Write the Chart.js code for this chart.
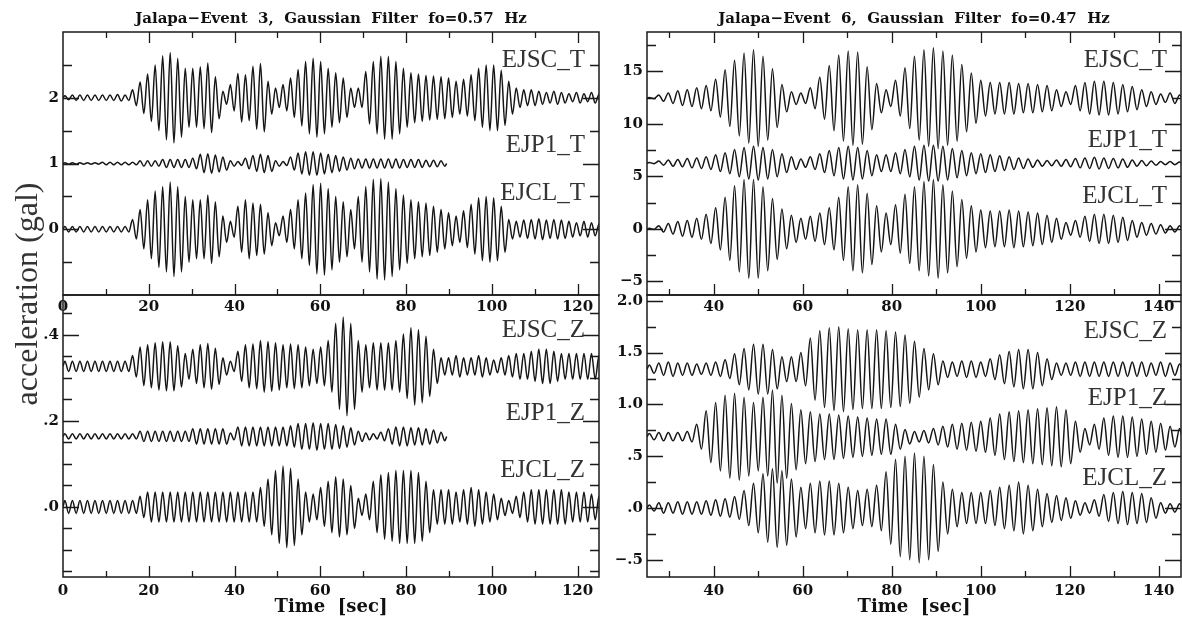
<!DOCTYPE html>
<html>
<head>
<meta charset="utf-8">
<script src="https://cdn.jsdelivr.net/npm/chart.js@4.4.1/dist/chart.umd.min.js"></script>
<style>
  body { margin: 0; background: #fff; }
  #wrap { position: relative; width: 1182px; height: 619px; }
  #wrap canvas { position: absolute; left: 0; top: 0; }
</style>
</head>
<body>
<div id="wrap">
  <canvas id="ev3T" width="1182" height="619"></canvas>
  <canvas id="ev3Z" width="1182" height="619"></canvas>
  <canvas id="ev6T" width="1182" height="619"></canvas>
  <canvas id="ev6Z" width="1182" height="619"></canvas>
</div>
<script>
// Gaussian-filtered records: half amplitude of each filter cycle, one value per cycle
const ev3Fo = 0.57;      // Hz, event 3 records start at t = 0 s
const ev6Fo = 0.47;      // Hz, event 6 records start at t = 25 s
const ev3Start = 0;
const ev6Start = 25;

const stationsT = ['EJSC_T', 'EJP1_T', 'EJCL_T'];
const stationsZ = ['EJSC_Z', 'EJP1_Z', 'EJCL_Z'];

// trace offsets (gal)
const ev3BaseT = [2, 1, 0];
const ev3BaseZ = [0.327, 0.164, 0];
const ev6BaseT = [12.45, 6.26, 0];
const ev6BaseZ = [1.34, 0.688, 0];

// event 3, transverse
const ev3EjscT = [0.03, 0.04, 0.04, 0.04, 0.04, 0.04, 0.04, 0.05, 0.04, 0.12,
  0.24, 0.36, 0.5, 0.64, 0.69, 0.6, 0.45, 0.45, 0.47, 0.53,
  0.32, 0.1, 0.2, 0.37, 0.35, 0.48, 0.52, 0.25, 0.15, 0.2,
  0.3, 0.43, 0.55, 0.6, 0.55, 0.45, 0.38, 0.3, 0.15, 0.15,
  0.4, 0.55, 0.63, 0.63, 0.55, 0.45, 0.38, 0.36, 0.34, 0.33,
  0.32, 0.3, 0.25, 0.28, 0.35, 0.45, 0.5, 0.5, 0.42, 0.25,
  0.15, 0.12, 0.12, 0.1, 0.08, 0.1, 0.08, 0.06, 0.08, 0.06,
  0.08, 0.05];
const ev3Ejp1T = [0.01, 0.01, 0.01, 0.01, 0.01, 0.02, 0.02, 0.02, 0.02, 0.02,
  0.04, 0.04, 0.04, 0.06, 0.06, 0.06, 0.06, 0.08, 0.14, 0.15,
  0.13, 0.1, 0.04, 0.03, 0.08, 0.12, 0.14, 0.12, 0.04, 0.03,
  0.1, 0.16, 0.18, 0.18, 0.16, 0.14, 0.12, 0.1, 0.08, 0.07,
  0.07, 0.07, 0.07, 0.07, 0.07, 0.06, 0.06, 0.06, 0.05, 0.05,
  0.04];
const ev3EjclT = [0.04, 0.04, 0.04, 0.04, 0.04, 0.04, 0.04, 0.04, 0.04, 0.15,
  0.3, 0.45, 0.58, 0.65, 0.72, 0.65, 0.5, 0.45, 0.45, 0.52,
  0.42, 0.2, 0.12, 0.35, 0.45, 0.4, 0.38, 0.25, 0.1, 0.2,
  0.3, 0.45, 0.55, 0.68, 0.7, 0.62, 0.5, 0.42, 0.3, 0.5,
  0.65, 0.76, 0.77, 0.72, 0.62, 0.52, 0.45, 0.42, 0.4, 0.35,
  0.3, 0.25, 0.2, 0.28, 0.38, 0.48, 0.5, 0.48, 0.35, 0.15,
  0.12, 0.14, 0.15, 0.16, 0.14, 0.15, 0.14, 0.12, 0.1, 0.12,
  0.1, 0.08];

// event 3, vertical
const ev3EjscZ = [0.012, 0.012, 0.012, 0.012, 0.012, 0.012, 0.012, 0.012, 0.012, 0.025,
  0.045, 0.05, 0.055, 0.057, 0.057, 0.048, 0.03, 0.04, 0.05, 0.053,
  0.042, 0.02, 0.012, 0.035, 0.05, 0.052, 0.06, 0.058, 0.055, 0.05,
  0.052, 0.05, 0.045, 0.04, 0.045, 0.06, 0.1, 0.115, 0.1, 0.06,
  0.05, 0.055, 0.055, 0.055, 0.06, 0.075, 0.09, 0.085, 0.07, 0.04,
  0.02, 0.02, 0.025, 0.02, 0.02, 0.025, 0.02, 0.015, 0.02, 0.025,
  0.03, 0.03, 0.035, 0.04, 0.04, 0.035, 0.03, 0.03, 0.03, 0.03,
  0.03, 0.025];
const ev3Ejp1Z = [0.006, 0.006, 0.006, 0.006, 0.006, 0.006, 0.006, 0.006, 0.006, 0.006,
  0.012, 0.012, 0.012, 0.012, 0.012, 0.012, 0.012, 0.018, 0.018, 0.018,
  0.018, 0.018, 0.008, 0.022, 0.022, 0.022, 0.022, 0.022, 0.022, 0.022,
  0.025, 0.03, 0.03, 0.032, 0.03, 0.03, 0.028, 0.025, 0.02, 0.012,
  0.008, 0.006, 0.01, 0.018, 0.022, 0.022, 0.02, 0.02, 0.018, 0.015,
  0.01];
const ev3EjclZ = [0.015, 0.015, 0.015, 0.015, 0.015, 0.015, 0.015, 0.015, 0.015, 0.015,
  0.025, 0.035, 0.035, 0.035, 0.035, 0.035, 0.035, 0.035, 0.035, 0.035,
  0.035, 0.035, 0.035, 0.035, 0.035, 0.035, 0.045, 0.065, 0.085, 0.095,
  0.09, 0.065, 0.035, 0.03, 0.045, 0.06, 0.07, 0.065, 0.05, 0.02,
  0.03, 0.06, 0.075, 0.08, 0.085, 0.085, 0.085, 0.08, 0.06, 0.04,
  0.04, 0.04, 0.035, 0.04, 0.045, 0.04, 0.035, 0.03, 0.02, 0.015,
  0.025, 0.035, 0.04, 0.04, 0.04, 0.04, 0.04, 0.035, 0.035, 0.035,
  0.03, 0.025];

// event 6, transverse
const ev6EjscT = [0.05, 0.3, 0.5, 0.7, 0.8, 1.0, 1.2, 1.8, 2.7, 3.6,
  4.3, 4.6, 4.0, 2.8, 1.3, 0.6, 0.5, 1.0, 2.0, 3.1,
  4.1, 4.5, 4.4, 3.0, 1.4, 0.8, 1.7, 2.9, 4.0, 4.6,
  4.8, 4.5, 4.1, 3.2, 2.4, 1.7, 1.5, 1.5, 1.5, 1.4,
  1.4, 1.3, 1.2, 0.8, 0.6, 1.2, 1.5, 1.6, 1.6, 1.5,
  1.3, 1.1, 0.8, 0.6, 0.4, 0.5, 0.3];
const ev6Ejp1T = [0.05, 0.2, 0.3, 0.35, 0.45, 0.5, 0.6, 0.8, 1.0, 1.3,
  1.5, 1.6, 1.5, 1.3, 0.9, 0.6, 0.4, 0.6, 0.9, 1.2,
  1.5, 1.6, 1.5, 1.2, 0.8, 0.8, 1.0, 1.3, 1.6, 1.7,
  1.7, 1.6, 1.4, 1.2, 1.0, 0.9, 0.8, 0.7, 0.6, 0.5,
  0.4, 0.3, 0.25, 0.3, 0.35, 0.45, 0.5, 0.55, 0.5, 0.45,
  0.4, 0.3, 0.25, 0.2, 0.15, 0.15, 0.1];
const ev6EjclT = [0.05, 0.3, 0.5, 0.7, 0.8, 1.0, 1.4, 2.0, 3.0, 4.1,
  4.7, 4.7, 4.0, 2.9, 1.9, 1.3, 1.0, 1.2, 1.5, 2.0,
  3.0, 4.0, 4.2, 3.4, 2.2, 1.5, 2.3, 3.3, 4.0, 4.5,
  4.7, 4.2, 3.6, 2.8, 2.2, 1.8, 1.7, 1.7, 1.8, 1.7,
  1.6, 1.5, 1.3, 1.0, 0.6, 0.8, 1.2, 1.4, 1.4, 1.3,
  1.1, 0.8, 0.6, 0.5, 0.4, 0.3, 0.3];

// event 6, vertical
const ev6EjscZ = [0.04, 0.06, 0.07, 0.06, 0.06, 0.05, 0.06, 0.07, 0.09, 0.15,
  0.2, 0.24, 0.24, 0.19, 0.12, 0.12, 0.16, 0.3, 0.37, 0.4,
  0.41, 0.39, 0.38, 0.38, 0.38, 0.37, 0.36, 0.33, 0.27, 0.2,
  0.15, 0.08, 0.07, 0.08, 0.08, 0.07, 0.1, 0.14, 0.17, 0.19,
  0.19, 0.16, 0.1, 0.06, 0.06, 0.07, 0.07, 0.07, 0.07, 0.07,
  0.07, 0.07, 0.07, 0.06, 0.07, 0.06, 0.05];
const ev6Ejp1Z = [0.03, 0.04, 0.04, 0.04, 0.05, 0.12, 0.25, 0.33, 0.4, 0.42,
  0.38, 0.33, 0.38, 0.45, 0.4, 0.32, 0.26, 0.24, 0.22, 0.22,
  0.21, 0.2, 0.19, 0.18, 0.17, 0.17, 0.12, 0.07, 0.05, 0.06,
  0.08, 0.1, 0.12, 0.13, 0.14, 0.15, 0.18, 0.22, 0.24, 0.25,
  0.26, 0.27, 0.28, 0.29, 0.26, 0.15, 0.08, 0.12, 0.18, 0.2,
  0.2, 0.19, 0.17, 0.15, 0.13, 0.1, 0.08];
const ev6EjclZ = [0.03, 0.05, 0.05, 0.06, 0.06, 0.06, 0.07, 0.08, 0.09, 0.11,
  0.17, 0.24, 0.33, 0.38, 0.36, 0.28, 0.2, 0.24, 0.26, 0.26,
  0.24, 0.2, 0.17, 0.18, 0.22, 0.35, 0.47, 0.5, 0.53, 0.5,
  0.42, 0.25, 0.18, 0.15, 0.15, 0.15, 0.17, 0.2, 0.22, 0.25,
  0.22, 0.18, 0.14, 0.12, 0.1, 0.07, 0.05, 0.08, 0.13, 0.15,
  0.16, 0.15, 0.14, 0.1, 0.05, 0.04, 0.04];

// axis ticks
const ev3XTicks = [0, 20, 40, 60, 80, 100, 120];
const ev6XTicks = [40, 60, 80, 100, 120, 140];
const ev3TYTicks = [0, 1, 2];
const ev3ZYTicks = [0, 0.2, 0.4];
const ev6TYTicks = [-5, 0, 5, 10, 15];
const ev6ZYTicks = [-0.5, 0, 0.5, 1.0, 1.5, 2.0];

const W = 1182, H = 619;
const Y_AXIS_W = 50, X_AXIS_H = 26;   // room kept for tick labels

// one peak and one trough per filter cycle, joined by monotone cubics
function cycles(amps, base, t0, fo) {
  const T = 1 / fo;
  const pts = [{ x: t0, y: base }];
  amps.forEach((a, k) => {
    pts.push({ x: t0 + (k + 0.25) * T, y: base + a });
    pts.push({ x: t0 + (k + 0.75) * T, y: base - a });
  });
  pts.push({ x: t0 + amps.length * T, y: base });
  return pts;
}

const minus = s => s.replace('-', '\u2212');
const fmtInt = v => minus(String(v));
const fmtDot = v => minus(v.toFixed(1).replace(/^(-?)0\./, '$1.'));

const near = (a, b) => Math.abs(a - b) < 1e-6;
function steps(lo, hi, st) {
  const out = [];
  for (let i = Math.ceil(lo / st - 1e-9); i * st <= hi + 1e-9; i++) out.push(+(i * st).toFixed(6));
  return out;
}

// box, inward ticks on every side, station names and panel texts
const framePlugin = {
  id: 'frame',
  afterDraw(chart, _args, o) {
    const { ctx, chartArea: a } = chart;
    const xs = chart.scales.x, ys = chart.scales.y;
    ctx.save();
    ctx.strokeStyle = '#1a1a1a';
    ctx.lineWidth = 1.5;
    ctx.strokeRect(a.left, a.top, a.right - a.left, a.bottom - a.top);

    ctx.lineWidth = 1.3;
    ctx.beginPath();
    steps(ys.min, ys.max, o.yMinor).forEach(v => {
      if (near(v, ys.min) || near(v, ys.max) || v < ys.min || v > ys.max) return;
      const len = o.yMajor.some(m => near(m, v)) ? 16 : 9;
      const py = Math.round(ys.getPixelForValue(v)) + 0.5;
      ctx.moveTo(a.left, py); ctx.lineTo(a.left + len, py);
      ctx.moveTo(a.right, py); ctx.lineTo(a.right - len, py);
    });
    steps(xs.min, xs.max, o.xMinor).forEach(v => {
      if (near(v, xs.min) || near(v, xs.max)) return;
      const len = o.xMajor.some(m => near(m, v)) ? 11 : 6;
      const px = Math.round(xs.getPixelForValue(v)) + 0.5;
      ctx.moveTo(px, a.bottom); ctx.lineTo(px, a.bottom - len);
      if (o.topTicks) { ctx.moveTo(px, a.top); ctx.lineTo(px, a.top + len); }
    });
    ctx.stroke();

    ctx.font = '25px "Liberation Serif"';
    ctx.fillStyle = '#333';
    ctx.textAlign = 'right';
    ctx.textBaseline = 'alphabetic';
    o.names.forEach((n, i) => ctx.fillText(n, a.right - 14, ys.getPixelForValue(o.nameAt[i])));

    ctx.fillStyle = '#111';
    ctx.textAlign = 'center';
    ctx.textBaseline = 'middle';
    const cx = (a.left + a.right) / 2;
    if (o.title) {
      ctx.font = 'bold 15px "DejaVu Serif"';
      ctx.fillText(o.title, cx, a.top - 13);
    }
    if (o.xTitle) {
      ctx.font = 'bold 18px "DejaVu Serif"';
      ctx.fillText(o.xTitle, cx, a.bottom + 30);
    }
    if (o.yTitle) {
      ctx.translate(a.left - 26, a.top - 1);
      ctx.rotate(-Math.PI / 2);
      ctx.font = '32px "Liberation Serif"';
      ctx.fillStyle = '#333';
      ctx.textBaseline = 'alphabetic';
      ctx.fillText(o.yTitle, 0, 0);
    }
    ctx.restore();
  }
};

const tickFont = { family: 'DejaVu Serif', size: 15, weight: 'bold' };

function panel(id, p) {
  const datasets = p.traces.map((amps, i) => ({
    data: cycles(amps, p.bases[i], p.t0, p.fo),
    borderColor: '#151515',
    borderWidth: 1.5,
    pointRadius: 0,
    cubicInterpolationMode: 'monotone',
    fill: false
  }));
  return new Chart(document.getElementById(id), {
    type: 'line',
    data: { datasets },
    plugins: [framePlugin],
    options: {
      responsive: false,
      animation: false,
      events: [],
      layout: {
        padding: {
          left: p.area[0] - Y_AXIS_W, top: p.area[1],
          right: W - p.area[2], bottom: H - p.area[3] - X_AXIS_H
        }
      },
      plugins: {
        legend: { display: false },
        tooltip: { enabled: false },
        frame: {
          yMajor: p.yTicks, yMinor: p.yMinor, xMajor: p.xTicks, xMinor: 10,
          topTicks: p.topTicks, names: p.names, nameAt: p.nameAt,
          title: p.title, xTitle: p.xTitle, yTitle: p.yTitle
        }
      },
      scales: {
        x: {
          type: 'linear', min: p.xRange[0], max: p.xRange[1],
          afterFit: s => { s.height = X_AXIS_H; },
          afterBuildTicks: s => { s.ticks = p.xTicks.map(v => ({ value: v })); },
          grid: { display: false, drawTicks: false }, border: { display: false },
          ticks: { font: tickFont, color: '#111', padding: p.xPad, maxRotation: 0, autoSkip: false, callback: v => String(v) }
        },
        y: {
          type: 'linear', min: p.yRange[0], max: p.yRange[1],
          afterFit: s => { s.width = Y_AXIS_W; },
          afterBuildTicks: s => { s.ticks = p.yTicks.map(v => ({ value: v })); },
          grid: { display: false, drawTicks: false }, border: { display: false },
          ticks: { font: tickFont, color: '#111', padding: 4, autoSkip: false, callback: p.fmt }
        }
      }
    }
  });
}

panel('ev3T', {
  area: [63, 32, 599, 295], xRange: [0, 125], yRange: [-1, 3],
  fo: ev3Fo, t0: ev3Start, bases: ev3BaseT, traces: [ev3EjscT, ev3Ejp1T, ev3EjclT],
  xTicks: ev3XTicks, yTicks: ev3TYTicks, yMinor: 0.5, fmt: fmtInt, topTicks: true, xPad: 3,
  names: stationsT, nameAt: [2.47, 1.17, 0.44],
  title: 'Jalapa\u2212Event  3,  Gaussian  Filter  fo=0.57  Hz'
});
panel('ev3Z', {
  area: [63, 295, 599, 577], xRange: [0, 125], yRange: [-0.163, 0.493],
  fo: ev3Fo, t0: ev3Start, bases: ev3BaseZ, traces: [ev3EjscZ, ev3Ejp1Z, ev3EjclZ],
  xTicks: ev3XTicks, yTicks: ev3ZYTicks, yMinor: 0.05, fmt: fmtDot, topTicks: false, xPad: 5,
  names: stationsZ, nameAt: [0.395, 0.202, 0.07],
  xTitle: 'Time  [sec]', yTitle: 'acceleration (gal)'
});
panel('ev6T', {
  area: [647, 32, 1181, 295], xRange: [25, 145], yRange: [-6.3, 18.75],
  fo: ev6Fo, t0: ev6Start, bases: ev6BaseT, traces: [ev6EjscT, ev6Ejp1T, ev6EjclT],
  xTicks: ev6XTicks, yTicks: ev6TYTicks, yMinor: 2.5, fmt: fmtInt, topTicks: true, xPad: 3,
  names: stationsT, nameAt: [15.4, 7.8, 2.5],
  title: 'Jalapa\u2212Event  6,  Gaussian  Filter  fo=0.47  Hz'
});
panel('ev6Z', {
  area: [647, 295, 1181, 577], xRange: [25, 145], yRange: [-0.666, 2.056],
  fo: ev6Fo, t0: ev6Start, bases: ev6BaseZ, traces: [ev6EjscZ, ev6Ejp1Z, ev6EjclZ],
  xTicks: ev6XTicks, yTicks: ev6ZYTicks, yMinor: 0.25, fmt: fmtDot, topTicks: false, xPad: 5,
  names: stationsZ, nameAt: [1.64, 0.99, 0.22],
  xTitle: 'Time  [sec]'
});
</script>
</body>
</html>
